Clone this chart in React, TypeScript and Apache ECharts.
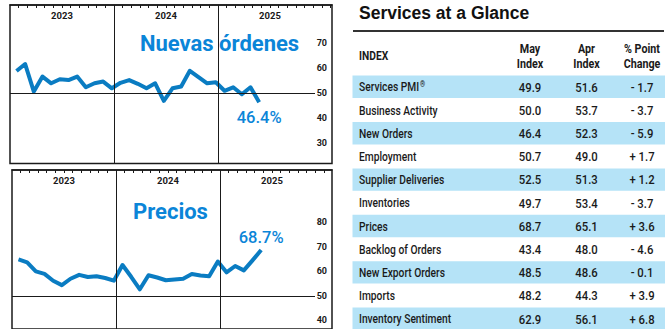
import React, { useEffect, useRef } from "react";
import * as echarts from "echarts";

// ---- Data ----
const years = ["2023", "2024", "2025"];
// Monthly values, Jan 2023 .. May 2025
const newOrders = [
  58.9, 61.7, 50.7, 56.7, 54.0, 55.6, 55.3, 56.7, 52.4, 54.0, 54.7, 52.0,
  54.2, 55.3, 53.8, 52.0, 54.0, 47.0, 52.0, 52.7, 59.0, 56.5, 54.0, 54.4,
  51.0, 52.4, 49.6, 52.4, 46.4,
];
const prices = [
  64.9, 63.7, 60.0, 59.0, 56.2, 54.4, 57.0, 58.6, 57.7, 58.0, 57.3, 56.2,
  62.6, 57.8, 52.7, 58.4, 57.5, 56.4, 56.7, 57.0, 58.9, 58.3, 58.0, 64.0,
  59.6, 62.2, 60.4, 64.5, 68.7,
];
const topChartTitle = "Nuevas órdenes";
const bottomChartTitle = "Precios";
const topYTicks = [30, 40, 50, 60, 70];
const bottomYTicks = [40, 50, 60, 70, 80];

const tableTitle = "Services at a Glance";
const headerIndex = "INDEX";
const headerCols = ["May\nIndex", "Apr\nIndex", "% Point\nChange"];
const indexNames = [
  "Services PMI",
  "Business Activity",
  "New Orders",
  "Employment",
  "Supplier Deliveries",
  "Inventories",
  "Prices",
  "Backlog of Orders",
  "New Export Orders",
  "Imports",
  "Inventory Sentiment",
];
const mayIndex = ["49.9", "50.0", "46.4", "50.7", "52.5", "49.7", "68.7", "43.4", "48.5", "48.2", "62.9"];
const aprIndex = ["51.6", "53.7", "52.3", "49.0", "51.3", "53.4", "65.1", "48.0", "48.6", "44.3", "56.1"];
const pointChange = ["- 1.7", "- 3.7", "- 5.9", "+ 1.7", "+ 1.2", "- 3.7", "+ 3.6", "- 4.6", "- 0.1", "+ 3.9", "+ 6.8"];

// ---- Styling / layout ----
const LINE_BLUE = "#0a7cc2";
const TEXT_BLUE = "#0b85d8";
const BAND = "#b5e3f7";
const DARK = "#1a1a1a";
const FONT = "Roboto, sans-serif";
const MONTH_PX = 104 / 12;
const POINT_OFFSET = 0.75;

function buildOption() {
  const grids = [
    { left: 10, top: 5, width: 322, height: 158.5 },
    { left: 12, top: 170, width: 320, height: 162 },
  ];
  const yRanges = [
    { min: 21.92, max: 85.32, ticks: topYTicks },
    { min: 36.52, max: 101.32, ticks: bottomYTicks },
  ];
  const seriesData = [newOrders, prices];
  const labelPos = [
    { position: "bottom", distance: 7 },
    { position: "top", distance: 4 },
  ];

  const xAxes: any[] = [];
  const yAxes: any[] = [];
  const series: any[] = [];

  grids.forEach((g, gi) => {
    const xMax = g.width / MONTH_PX;
    const tickVals: number[] = [];
    for (let m = 1; m < xMax; m++) tickVals.push(m);
    xAxes.push({
      gridIndex: gi,
      type: "value",
      position: "top",
      min: 0,
      max: xMax,
      axisLine: { show: true, lineStyle: { color: DARK, width: 1.5 } },
      axisTick: { show: true, inside: true, length: 3, customValues: tickVals, lineStyle: { color: DARK, width: 1 } },
      axisLabel: {
        show: true,
        inside: true,
        margin: 5,
        customValues: years.map((_, k) => k * 12 + 6),
        formatter: (v: number) => years[Math.floor(v / 12)],
        color: DARK,
        fontFamily: FONT,
        fontWeight: "bold",
        fontSize: 9.5,
      },
      splitLine: { show: false },
    });
    const yr = yRanges[gi];
    yAxes.push({
      gridIndex: gi,
      type: "value",
      position: "right",
      min: yr.min,
      max: yr.max,
      axisLine: { show: false },
      axisTick: { show: false },
      axisLabel: {
        show: true,
        inside: true,
        margin: 5,
        customValues: yr.ticks,
        color: DARK,
        fontFamily: FONT,
        fontWeight: "bold",
        fontSize: 9,
      },
      splitLine: { show: false },
    });
    const lineEnd = (g.width - 17) / MONTH_PX;
    series.push({
      type: "line",
      xAxisIndex: gi,
      yAxisIndex: gi,
      data: [],
      z: 1,
      silent: true,
      markLine: {
        silent: true,
        symbol: ["none", "none"],
        label: { show: false },
        lineStyle: { color: DARK, width: 1, type: "solid" },
        emphasis: { disabled: true },
        data: [
          ...years.slice(1).map((_, k) => ({ xAxis: (k + 1) * 12 })),
          [{ coord: [0, 50] }, { coord: [lineEnd, 50] }],
        ],
      },
    });
    const vals = seriesData[gi];
    const last = vals.length - 1;
    series.push({
      type: "line",
      xAxisIndex: gi,
      yAxisIndex: gi,
      z: 3,
      symbol: "none",
      silent: true,
      lineStyle: { color: LINE_BLUE, width: 4, join: "round" },
      data: vals.map((v, i) => [i + POINT_OFFSET, v]),
      markPoint: {
        silent: true,
        symbol: "circle",
        symbolSize: 0,
        itemStyle: { color: "transparent" },
        label: {
          show: true,
          position: labelPos[gi].position,
          distance: labelPos[gi].distance,
          formatter: (p: any) => `${Number(p.value).toFixed(1)}%`,
          color: TEXT_BLUE,
          fontFamily: FONT,
          fontWeight: 500,
          fontSize: 16.5,
        },
        data: [{ coord: [last + POINT_OFFSET, vals[last]], value: vals[last] }],
      },
    });
  });

  const graphic: any[] = [];
  graphic.push({
    type: "text",
    x: 140,
    y: 43,
    style: { text: topChartTitle, fill: TEXT_BLUE, fontFamily: FONT, fontWeight: "bold", fontSize: 22, verticalAlign: "middle", align: "left" },
  });
  graphic.push({
    type: "text",
    x: 133,
    y: 211,
    style: { text: bottomChartTitle, fill: TEXT_BLUE, fontFamily: FONT, fontWeight: "bold", fontSize: 22, verticalAlign: "middle", align: "left" },
  });

  // Table
  const labelX = 359;
  const colX = [530, 586.5, 642];
  const rowY0 = 86.8;
  const rowH = 23.2;
  graphic.push({
    type: "text",
    x: 359,
    y: 13,
    style: { text: tableTitle, fill: "#111", fontFamily: '"Liberation Sans", Arial, sans-serif', fontWeight: "bold", fontSize: 17.5, verticalAlign: "middle", align: "left" },
  });
  graphic.push({
    type: "line",
    shape: { x1: 353, y1: 31, x2: 664, y2: 31 },
    style: { stroke: "#333", lineWidth: 2 },
  });
  graphic.push({
    type: "text",
    x: labelX,
    y: 55.5,
    scaleX: 0.82,
    style: { text: headerIndex, fill: DARK, fontFamily: FONT, fontWeight: "bold", fontSize: 12.5, verticalAlign: "middle", align: "left" },
  });
  headerCols.forEach((h, c) => {
    graphic.push({
      type: "text",
      x: colX[c],
      y: 55.8,
      scaleX: 0.86,
      style: { text: h, fill: DARK, fontFamily: FONT, fontWeight: "bold", fontSize: 12.5, lineHeight: 15, verticalAlign: "middle", align: "center" },
    });
  });
  indexNames.forEach((name, r) => {
    const cy = rowY0 + r * rowH;
    if (r % 2 === 0) {
      graphic.push({
        type: "rect",
        shape: { x: 352.5, y: cy - 11.2, width: 312.5, height: 22.4 },
        style: { fill: BAND },
        z: 0,
      });
    }
    const isPmi = r === 0;
    graphic.push({
      type: "text",
      x: labelX,
      y: cy,
      z: 2,
      scaleX: 0.76,
      style: {
        text: isPmi ? `${name}{sup|®}` : name,
        rich: isPmi ? { sup: { fontSize: 8.5, fontWeight: "bold", verticalAlign: "top", fill: DARK, fontFamily: FONT, padding: [0, 0, 6, 1] } } : undefined,
        fill: DARK,
        fontFamily: FONT,
        fontWeight: 500,
        fontSize: 13.5,
        verticalAlign: "middle",
        align: "left",
      },
    });
    [mayIndex[r], aprIndex[r], pointChange[r]].forEach((v, c) => {
      graphic.push({
        type: "text",
        x: colX[c],
        y: cy,
        z: 2,
        scaleX: 0.84,
        style: { text: v, fill: DARK, fontFamily: FONT, fontWeight: 500, fontSize: 13.5, verticalAlign: "middle", align: "center" },
      });
    });
  });

  return {
    animation: false,
    backgroundColor: "#ffffff",
    grid: grids.map((g) => ({ ...g, show: true, borderColor: DARK, borderWidth: 1.5, backgroundColor: "transparent" })),
    xAxis: xAxes,
    yAxis: yAxes,
    series,
    graphic,
  };
}

export default function App() {
  const ref = useRef<HTMLDivElement>(null);
  useEffect(() => {
    if (!ref.current) return;
    const chart = echarts.init(ref.current, undefined, { renderer: "svg" });
    chart.setOption(buildOption() as any);
    return () => chart.dispose();
  }, []);
  return (
    <div
      ref={ref}
      style={{ position: "fixed", left: 0, top: 0, width: 667, height: 329, background: "#fff" }}
    />
  );
}
